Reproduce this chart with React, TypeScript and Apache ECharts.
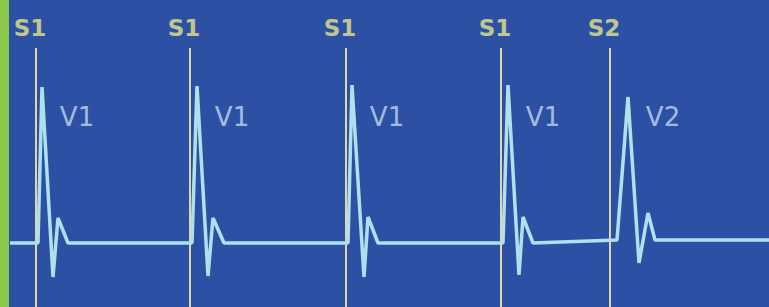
import React, { useEffect, useRef } from "react";
import * as echarts from "echarts";

// time in ms, amplitude in mV
const traceTimes = [20, 76, 84, 106, 116, 136, 384, 394, 416, 426, 448, 696, 704, 728, 736, 756, 1006, 1016, 1038, 1046, 1066, 1234, 1256, 1278, 1296, 1310, 1538];
const traceValues = [0, 0, 1.56, -0.34, 0.25, 0, 0, 1.57, -0.33, 0.25, 0, 0, 1.58, -0.34, 0.26, 0, 0, 1.58, -0.32, 0.26, 0, 0.03, 1.46, -0.2, 0.3, 0.03, 0.03];
const stimTimes = [72, 380, 692, 1002, 1220];
const stimLabels = ["S1", "S1", "S1", "S1", "S2"];
const peakTimes = [84, 394, 704, 1016, 1256];
const responseLabels = ["V1", "V1", "V1", "V1", "V2"];

export default function App() {
  const ref = useRef<HTMLDivElement>(null);
  useEffect(() => {
    document.body.style.margin = "0";
    const chart = echarts.init(ref.current!, null, { renderer: "svg" });
    const yTop = 2.43;
    const yBottom = -0.64;
    chart.setOption({
      animation: false,
      backgroundColor: "#2c51a4",
      grid: { left: 0, right: 0, top: 0, bottom: 0 },
      xAxis: { type: "value", min: 0, max: 1538, show: false, splitLine: { show: false } },
      yAxis: { type: "value", min: yBottom, max: yTop, show: false, splitLine: { show: false } },
      graphic: [
        { type: "rect", left: 0, top: 0, shape: { width: 9, height: 307 }, style: { fill: "#8cc84b" }, z: 100 },
      ],
      series: [
        {
          type: "line",
          data: [],
          markLine: {
            symbol: "none",
            silent: true,
            lineStyle: { color: "#ddd8a4", width: 2, type: "solid" },
            label: { show: false },
            data: stimTimes.map((t) => [
              { coord: [t, 1.95] },
              { coord: [t, yBottom] },
            ]),
          },
        },
        {
          type: "line",
          data: traceTimes.map((t, i) => [t, traceValues[i]]),
          symbol: "none",
          lineStyle: { color: "#b0e0ec", width: 3.5 },
          z: 5,
        },
        {
          type: "scatter",
          symbolSize: 0,
          data: stimTimes.map((t, i) => ({ value: [t - 12, 2.15], name: stimLabels[i] })),
          label: {
            show: true,
            position: "inside",
            formatter: (p: any) => p.name,
            color: "#ebe78a",
            fontFamily: "DejaVu Sans",
            fontWeight: "bold",
            fontSize: 23,
          },
        },
        {
          type: "scatter",
          symbolSize: 0,
          data: peakTimes.map((t, i) => ({ value: [t + 70, 1.26], name: responseLabels[i] })),
          label: {
            show: true,
            position: "inside",
            formatter: (p: any) => p.name,
            color: "#c4d8ee",
            fontFamily: "DejaVu Sans",
            fontSize: 26,
          },
        },
      ],
    });
    return () => chart.dispose();
  }, []);
  return <div ref={ref} style={{ width: 769, height: 307, position: "fixed", left: 0, top: 0 }} />;
}
